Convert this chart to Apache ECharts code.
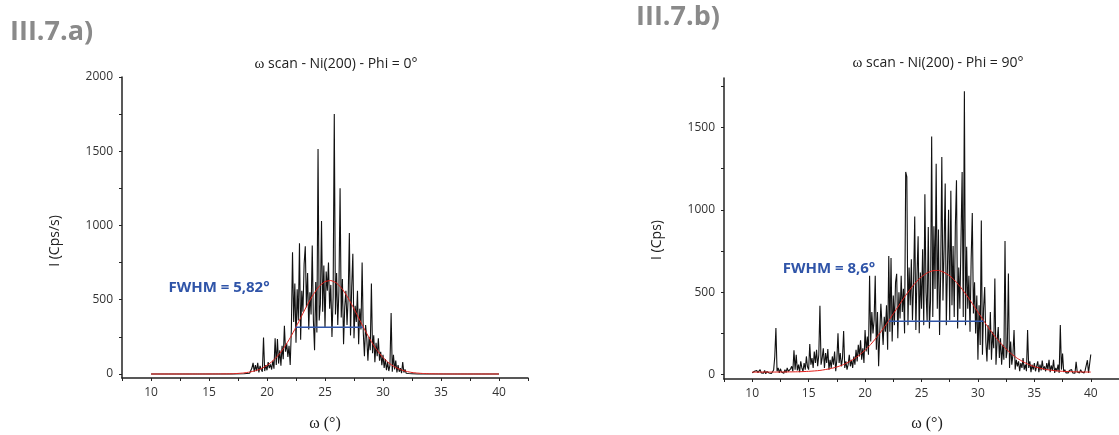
<!DOCTYPE html>
<html>
<head>
<meta charset="utf-8">
<script src="https://cdn.jsdelivr.net/npm/echarts@6/dist/echarts.min.js"></script>
<style>html,body{margin:0;padding:0;background:#fff;}#c{width:1119px;height:435px;}</style>
</head>
<body>
<div id="c"></div>
<script>
// ---------- tick values ----------
const xLabelVals = [10, 15, 20, 25, 30, 35, 40];
const xTickVals = [7.5, 10, 12.5, 15, 17.5, 20, 22.5, 25, 27.5, 30, 32.5, 35, 37.5, 40, 42.5];
const yLabelValsA = [0, 500, 1000, 1500, 2000];
const yTickValsA = [0, 250, 500, 750, 1000, 1250, 1500, 1750, 2000];
const yLabelValsB = [0, 500, 1000, 1500];
const yTickValsB = [0, 250, 500, 750, 1000, 1250, 1500, 1750];

// ---------- panel a: Phi = 0 ----------
const omegaA = [10, 11, 12, 13, 14, 15, 16, 17, 18, 18.5,
  18.6, 18.7, 18.8, 18.9,
  19, 19.1, 19.2, 19.3, 19.4, 19.5, 19.6, 19.7, 19.8, 19.9,
  20, 20.1, 20.2, 20.3, 20.4, 20.5, 20.6, 20.7, 20.8, 20.9,
  21, 21.1, 21.2, 21.3, 21.4, 21.5, 21.6, 21.7, 21.8, 21.9,
  22, 22.1, 22.2, 22.3, 22.4, 22.5, 22.6, 22.7, 22.8, 22.9,
  23, 23.1, 23.2, 23.3, 23.4, 23.5, 23.6, 23.7, 23.8, 23.9,
  24, 24.1, 24.2, 24.3, 24.4, 24.5, 24.6, 24.7, 24.8, 24.9,
  25, 25.1, 25.2, 25.3, 25.4, 25.5, 25.6, 25.7, 25.8, 25.9,
  26, 26.1, 26.2, 26.3, 26.4, 26.5, 26.6, 26.7, 26.8, 26.9,
  27, 27.1, 27.2, 27.3, 27.4, 27.5, 27.6, 27.7, 27.8, 27.9,
  28, 28.1, 28.2, 28.3, 28.4, 28.5, 28.6, 28.7, 28.8, 28.9,
  29, 29.1, 29.2, 29.3, 29.4, 29.5, 29.6, 29.7, 29.8, 29.9,
  30, 30.1, 30.2, 30.3, 30.4, 30.5, 30.6, 30.7, 30.8, 30.9,
  31, 31.1, 31.2, 31.3, 31.4, 31.5, 31.6, 31.7, 31.8, 31.9,
  32, 32.1, 32.2, 32.3,
  32.5, 33, 34, 35, 36, 37, 38, 39, 40];
const countsA = [0, 0, 0, 0, 0, 0, 0, 0, 2, 5,
  10, 40, 75, 15,
  60, 20, 75, 10, 55, 30, 15, 245, 20, 60,
  25, 80, 40, 65, 30, 90, 35, 240, 60, 235,
  70, 160, 55, 190, 100, 325, 150, 205, 115, 190,
  60, 300, 820, 350, 610, 210, 570, 360, 880, 230,
  560, 420, 740, 860, 450, 680, 300, 550, 400, 865,
  360, 160, 620, 280, 1515, 360, 470, 1030, 420, 730,
  310, 690, 560, 750, 440, 600, 250, 520, 1750, 400,
  680, 330, 560, 1250, 380, 640, 200, 450, 560, 330,
  520, 950, 260, 580, 810, 240, 460, 350, 560, 200,
  440, 300, 750, 280, 120, 330, 240, 90, 250, 160,
  610, 140, 260, 80, 210, 120, 240, 90, 150, 60,
  130, 40, 100, 25, 80, 20, 60, 410, 15, 130,
  30, 90, 10, 60, 15, 40, 5, 80, 10, 30,
  5, 15, 3, 8,
  2, 0, 0, 0, 0, 0, 0, 0, 0];
const fitXA = [10, 12, 14, 16, 17, 17.5, 18, 18.5, 19, 19.5, 20, 20.5, 21, 21.5, 22, 22.5, 23, 23.5, 24, 24.5,
  25, 25.5, 26, 26.5, 27, 27.5, 28, 28.5, 29, 29.5, 30, 30.5, 31, 31.5, 32, 32.5, 33, 33.5, 34, 35, 36, 38, 40];
const fitYA = [0, 0, 0, 0.5, 1.5, 3.8, 7, 13, 22, 36, 58, 88, 129, 181, 244, 316, 393, 469, 536, 590,
  622, 629, 612, 571, 511, 439, 362, 287, 218, 159, 111, 75, 48, 30, 18, 10, 6, 3, 1.5, 0.5, 0, 0, 0];
const fwhmXA = [22.45, 28.25];
const fwhmYA = [315, 315];

// ---------- panel b: Phi = 90 ----------
const omegaB = [
  10, 10.1, 10.2, 10.3, 10.4, 10.5, 10.6, 10.7, 10.8, 10.9,
  11, 11.1, 11.2, 11.3, 11.4, 11.5, 11.6, 11.7, 11.8, 11.9,
  12, 12.1, 12.2, 12.3, 12.4, 12.5, 12.6, 12.7, 12.8, 12.9,
  13, 13.1, 13.2, 13.3, 13.4, 13.5, 13.6, 13.7, 13.8, 13.9,
  14, 14.1, 14.2, 14.3, 14.4, 14.5, 14.6, 14.7, 14.8, 14.9,
  15, 15.1, 15.2, 15.3, 15.4, 15.5, 15.6, 15.7, 15.8, 15.9,
  16, 16.1, 16.2, 16.3, 16.4, 16.5, 16.6, 16.7, 16.8, 16.9,
  17, 17.1, 17.2, 17.3, 17.4, 17.5, 17.6, 17.7, 17.8, 17.9,
  18, 18.1, 18.2, 18.3, 18.4, 18.5, 18.6, 18.7, 18.8, 18.9,
  19, 19.1, 19.2, 19.3, 19.4, 19.5, 19.6, 19.7, 19.8, 19.9,
  20, 20.1, 20.2, 20.3, 20.4, 20.5, 20.6, 20.7, 20.8, 20.9,
  21, 21.1, 21.2, 21.3, 21.4, 21.5, 21.6, 21.7, 21.8, 21.9,
  22, 22.1, 22.2, 22.3, 22.4, 22.5, 22.6, 22.7, 22.8, 22.9,
  23, 23.1, 23.2, 23.3, 23.4, 23.5, 23.6, 23.7, 23.8, 23.9,
  24, 24.1, 24.2, 24.3, 24.4, 24.5, 24.6, 24.7, 24.8, 24.9,
  25, 25.1, 25.2, 25.3, 25.4, 25.5, 25.6, 25.7, 25.8, 25.9,
  26, 26.1, 26.2, 26.3, 26.4, 26.5, 26.6, 26.7, 26.8, 26.9,
  27, 27.1, 27.2, 27.3, 27.4, 27.5, 27.6, 27.7, 27.8, 27.9,
  28, 28.1, 28.2, 28.3, 28.4, 28.5, 28.6, 28.7, 28.8, 28.9,
  29, 29.1, 29.2, 29.3, 29.4, 29.5, 29.6, 29.7, 29.8, 29.9,
  30, 30.1, 30.2, 30.3, 30.4, 30.5, 30.6, 30.7, 30.8, 30.9,
  31, 31.1, 31.2, 31.3, 31.4, 31.5, 31.6, 31.7, 31.8, 31.9,
  32, 32.1, 32.2, 32.3, 32.4, 32.5, 32.6, 32.7, 32.8, 32.9,
  33, 33.1, 33.2, 33.3, 33.4, 33.5, 33.6, 33.7, 33.8, 33.9,
  34, 34.1, 34.2, 34.3, 34.4, 34.5, 34.6, 34.7, 34.8, 34.9,
  35, 35.1, 35.2, 35.3, 35.4, 35.5, 35.6, 35.7, 35.8, 35.9,
  36, 36.1, 36.2, 36.3, 36.4, 36.5, 36.6, 36.7, 36.8, 36.9,
  37, 37.1, 37.2, 37.3, 37.4, 37.5, 37.6, 37.7, 37.8, 37.9,
  38, 38.1, 38.2, 38.3, 38.4, 38.5, 38.6, 38.7, 38.8, 38.9,
  39, 39.1, 39.2, 39.3, 39.4, 39.5, 39.6, 39.7, 39.8, 39.9,
  40];
const countsB = [
  10, 5, 20, 8, 25, 12, 5, 30, 10, 15,
  8, 25, 5, 18, 30, 10, 22, 6, 15, 28,
  110, 283, 20, 40, 10, 35, 15, 25, 8, 30,
  12, 40, 20, 10, 35, 50, 20, 148, 30, 120,
  25, 60, 15, 80, 40, 20, 70, 30, 110, 45,
  30, 185, 60, 100, 40, 140, 70, 150, 50, 120,
  417, 60, 100, 160, 40, 130, 70, 155, 30, 90,
  40, 110, 60, 140, 20, 90, 250, 70, 130, 50,
  100, 264, 40, 80, 30, 60, 120, 50, 90, 40,
  110, 60, 150, 80, 180, 110, 208, 90, 160, 70,
  270, 140, 230, 120, 600, 200, 380, 250, 330, 600,
  150, 380, 50, 250, 430, 300, 180, 350, 260, 420,
  150, 720, 260, 707, 200, 480, 300, 560, 612, 220,
  500, 340, 600, 380, 520, 250, 1230, 1200, 300, 650,
  420, 700, 330, 560, 960, 270, 600, 840, 250, 620,
  400, 760, 300, 1095, 500, 320, 896, 280, 450, 1445,
  350, 900, 520, 1280, 400, 880, 240, 620, 1320, 450,
  760, 1160, 300, 650, 1000, 330, 1115, 420, 780, 350,
  900, 1180, 280, 650, 400, 820, 1230, 350, 1720, 300,
  775, 400, 600, 260, 700, 980, 370, 560, 250, 480,
  90, 420, 180, 935, 120, 400, 532, 200, 80, 300,
  150, 380, 90, 260, 160, 583, 60, 200, 289, 100,
  220, 60, 180, 90, 811, 100, 150, 613, 40, 200,
  60, 120, 270, 30, 90, 50, 80, 20, 70, 40,
  100, 30, 60, 20, 270, 40, 80, 15, 60, 30,
  70, 20, 50, 80, 15, 60, 25, 85, 30, 50,
  20, 70, 30, 90, 15, 55, 25, 90, 10, 40,
  20, 60, 10, 300, 30, 128, 15, 30, 10, 20,
  10, 25, 15, 30, 10, 20, 8, 77, 15, 20,
  10, 30, 15, 20, 10, 25, 15, 87, 10, 20,
  122];
const fitXB = [10, 12, 14, 15, 16, 17, 17.5, 18, 18.5, 19, 19.5, 20, 20.5, 21, 21.5, 22, 22.5, 23, 23.5, 24, 24.5,
  25, 25.5, 26, 26.5, 27, 27.5, 28, 28.5, 29, 29.5, 30, 30.5, 31, 31.5, 32, 32.5, 33, 33.5, 34, 34.5,
  35, 36, 37, 38, 39, 40];
const fitYB = [15, 15.2, 16.8, 19.5, 25, 37, 46, 58, 74, 94, 119, 148, 183, 224, 269, 317, 369, 420, 471, 518, 560,
  593, 617, 630, 632, 620, 599, 567, 527, 481, 431, 379, 327, 278, 232, 191, 155, 124, 98, 78, 61,
  48, 31, 22, 18, 16, 15];
const fwhmXB = [22.1, 30.5];
const fwhmYB = [323, 323];

// ---------- build ----------
function zip(xs, ys) { return xs.map((x, i) => [x, ys[i]]); }

const FONT = 'Open Sans';
const axisCol = '#222';

function xAxisFor(gi) {
  return {
    type: 'value', gridIndex: gi, min: 7.5, max: 42.5,
    axisLine: { show: true, onZero: false, lineStyle: { color: axisCol, width: 1.5 } },
    axisTick: { show: true, customValues: xTickVals, length: 3, lineStyle: { color: axisCol, width: 1 } },
    axisLabel: { customValues: xLabelVals, fontSize: 12, color: '#333', margin: 9, fontFamily: FONT,
      formatter: v => String(v) },
    splitLine: { show: false }
  };
}
function yAxisFor(gi, max, ticks, labels) {
  return {
    type: 'value', gridIndex: gi, min: -27, max: max,
    axisLine: { show: true, onZero: false, lineStyle: { color: axisCol, width: 1.5 } },
    axisTick: { show: true, customValues: ticks, length: 3, lineStyle: { color: axisCol, width: 1 } },
    axisLabel: { customValues: labels, fontSize: 12, color: '#333', margin: 9, fontFamily: FONT,
      formatter: v => String(v) },
    splitLine: { show: false }
  };
}
function lineSeries(gi, data, color, width, z) {
  return {
    type: 'line', xAxisIndex: gi, yAxisIndex: gi, data: data, showSymbol: false,
    symbol: 'none', lineStyle: { color: color, width: width }, z: z, animation: false, silent: true
  };
}

const chart = echarts.init(document.getElementById('c'), null, { renderer: 'canvas' });
chart.setOption({
  animation: false,
  backgroundColor: '#fff',
  grid: [
    { left: 122, top: 77, width: 406, height: 301 },
    { left: 724, top: 78, width: 406, height: 301 }
  ],
  xAxis: [xAxisFor(0), xAxisFor(1)],
  yAxis: [yAxisFor(0, 2000, yTickValsA, yLabelValsA), yAxisFor(1, 1800, yTickValsB, yLabelValsB)],
  series: [
    lineSeries(0, zip(omegaA, countsA), '#111', 1.1, 2),
    Object.assign(lineSeries(0, zip(fitXA, fitYA), '#e3201b', 1, 3), { smooth: 0.2 }),
    lineSeries(0, zip(fwhmXA, fwhmYA), '#2f54a8', 1.5, 4),
    lineSeries(1, zip(omegaB, countsB), '#111', 1.1, 2),
    Object.assign(lineSeries(1, zip(fitXB, fitYB), '#e3201b', 1, 3), { smooth: 0.2 }),
    lineSeries(1, zip(fwhmXB, fwhmYB), '#2f54a8', 1.5, 4)
  ],
  graphic: [
    { type: 'text', left: 10, top: 19, silent: true,
      style: { text: 'III.7.a)', font: 'bold 27px "Open Sans"', fill: '#8a8a8a' } },
    { type: 'text', left: 636, top: 4, silent: true,
      style: { text: 'III.7.b)', font: 'bold 27px "Open Sans"', fill: '#8a8a8a' } },
    { type: 'text', x: 336, y: 64, silent: true,
      style: { text: '{w|ω} scan - Ni(200) - Phi = 0°', font: '14px "Open Sans"', fill: '#222', align: 'center', verticalAlign: 'middle',
        rich: { w: { fontFamily: 'Liberation Serif', fontSize: 15, fill: '#222' } } } },
    { type: 'text', x: 938, y: 63, silent: true,
      style: { text: '{w|ω} scan - Ni(200) - Phi = 90°', font: '14px "Open Sans"', fill: '#222', align: 'center', verticalAlign: 'middle',
        rich: { w: { fontFamily: 'Liberation Serif', fontSize: 15, fill: '#222' } } } },
    { type: 'text', x: 55, y: 241, rotation: Math.PI / 2, silent: true,
      style: { text: 'I (Cps/s)', font: '14px "Open Sans"', fill: '#222', align: 'center', verticalAlign: 'middle' } },
    { type: 'text', x: 657, y: 240, rotation: Math.PI / 2, silent: true,
      style: { text: 'I (Cps)', font: '14px "Open Sans"', fill: '#222', align: 'center', verticalAlign: 'middle' } },
    { type: 'text', x: 325, y: 424, silent: true,
      style: { text: 'ω (°)', font: '16px "Liberation Serif"', fill: '#222', align: 'center', verticalAlign: 'middle' } },
    { type: 'text', x: 927, y: 424, silent: true,
      style: { text: 'ω (°)', font: '16px "Liberation Serif"', fill: '#222', align: 'center', verticalAlign: 'middle' } },
    { type: 'text', x: 219, y: 288, silent: true,
      style: { text: 'FWHM = 5,82°', font: 'bold 15px "Open Sans"', fill: '#2f54a8', align: 'center', verticalAlign: 'middle' } },
    { type: 'text', x: 829, y: 269, silent: true,
      style: { text: 'FWHM = 8,6°', font: 'bold 15px "Open Sans"', fill: '#2f54a8', align: 'center', verticalAlign: 'middle' } }
  ]
});
</script>
</body>
</html>
